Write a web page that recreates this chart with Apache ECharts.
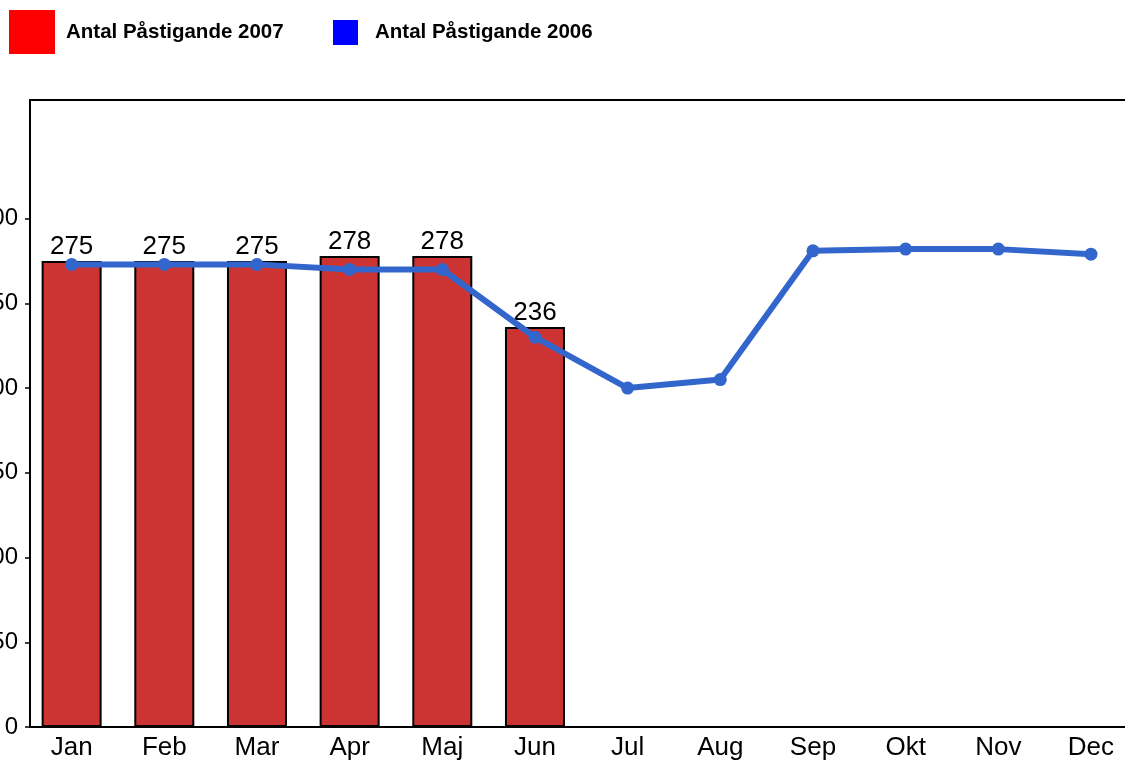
<!DOCTYPE html>
<html>
<head>
<meta charset="utf-8">
<script src="https://cdn.jsdelivr.net/npm/echarts@6/dist/echarts.min.js"></script>
<style>
html,body{margin:0;padding:0;background:#fff;}
#chart{width:1125px;height:762px;}
</style>
</head>
<body>
<div id="chart"></div>
<script>
const categories = ['Jan','Feb','Mar','Apr','Maj','Jun','Jul','Aug','Sep','Okt','Nov','Dec'];
const values2007 = [275, 275, 275, 278, 278, 236];
const values2006 = [273, 273, 273, 270, 270, 230, 200, 205, 281, 282, 282, 279];
const yTicks = [0, 50, 100, 150, 200, 250, 300];
const seriesNames = ['Antal Påstigande 2007', 'Antal Påstigande 2006'];

const chart = echarts.init(document.getElementById('chart'));
const font = "'Liberation Sans', Arial, sans-serif";

chart.setOption({
  animation: false,
  backgroundColor: '#fff',
  legend: [
    {
      left: 9, top: 10, padding: 0, itemWidth: 46, itemHeight: 44, icon: 'rect',
      data: [{ name: seriesNames[0], itemStyle: { color: '#ff0000', borderWidth: 0 } }],
      textStyle: { fontFamily: font, fontWeight: 'bold', fontSize: 20.5, color: '#000', padding: [0, 0, 0, 6] },
      selectedMode: false
    },
    {
      left: 333, top: 20, padding: 0, itemWidth: 25, itemHeight: 25, icon: 'rect',
      data: [{ name: seriesNames[1], itemStyle: { color: '#0000ff', borderWidth: 0 } }],
      textStyle: { fontFamily: font, fontWeight: 'bold', fontSize: 20.5, color: '#000', padding: [0, 0, 0, 12] },
      selectedMode: false
    }
  ],
  grid: [
    { left: 25.3, top: 100, width: 1112, bottom: 35, containLabel: false, outerBoundsMode: 'none' },
    { left: 30, top: 100, right: -20, bottom: 35, show: true, borderColor: '#000', borderWidth: 2, backgroundColor: 'transparent', outerBoundsMode: 'none' }
  ],
  xAxis: [
    {
      type: 'category', data: categories, gridIndex: 0,
      axisLine: { show: false }, axisTick: { show: false },
      axisLabel: { fontFamily: font, fontSize: 26, color: '#000', margin: 8 }
    },
    { type: 'category', data: categories, gridIndex: 1, show: false }
  ],
  yAxis: [
    {
      type: 'value', min: 0, max: 370, gridIndex: 0, offset: -4.7,
      axisLine: { show: false },
      axisTick: { show: true, length: 5, lineStyle: { color: '#000', width: 1.5 }, customValues: yTicks },
      axisLabel: { fontFamily: font, fontSize: 24, color: '#000', margin: 12, customValues: yTicks },
      splitLine: { show: false }
    },
    { type: 'value', min: 0, max: 370, gridIndex: 1, show: false }
  ],
  series: [
    {
      name: seriesNames[0], type: 'bar', data: values2007, barWidth: 60,
      itemStyle: { color: '#cc3333', borderColor: '#000', borderWidth: 2 },
      label: { show: true, position: 'top', distance: 1, fontFamily: font, fontSize: 26, color: '#000' },
      z: 2
    },
    {
      name: seriesNames[1], type: 'line', data: values2006,
      lineStyle: { color: '#3366cc', width: 6 },
      itemStyle: { color: '#3366cc' },
      symbol: 'circle', symbolSize: 13, showSymbol: true,
      z: 3
    }
  ]
});
</script>
</body>
</html>
